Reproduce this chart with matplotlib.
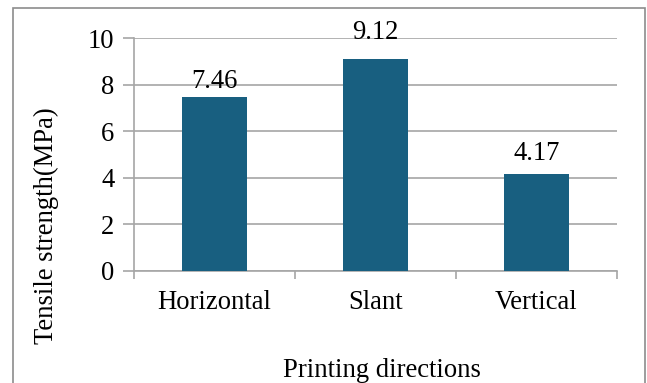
import matplotlib
matplotlib.use("Agg")
import matplotlib.pyplot as plt
from matplotlib.patches import Rectangle
from matplotlib.transforms import offset_copy

categories = ["Horizontal", "Slant", "Vertical"]
strength = [7.46, 9.12, 4.17]
y_ticks = [0, 2, 4, 6, 8, 10]

# gap (px) between each bar top and the baseline of its value label
label_gap_px = [9, 20, 14]

plt.rcParams["font.family"] = ["Liberation Serif", "DejaVu Serif"]
FS = 19.2
GRID = "#a6a6a6"
BAR = "#185f80"

W, H = 647, 383
fig = plt.figure(figsize=(W / 100, H / 100), dpi=100)

# outer chart frame
fig.patches.append(Rectangle((13 / W, -0.05), (645 - 13) / W, 1.05 - 8 / H,
                             transform=fig.transFigure, fill=False,
                             edgecolor="#8c8c8c", linewidth=1.2))

left, right, top, bottom = 134, 617, 38, 271
ax = fig.add_axes([left / W, 1 - bottom / H, (right - left) / W, (bottom - top) / H])

x = list(range(len(categories)))
ax.bar(x, strength, width=0.4, color=BAR, zorder=3)
for xi, v, gap in zip(x, strength, label_gap_px):
    tr = offset_copy(ax.transData, fig=fig, x=0, y=gap * 72 / 100, units="points")
    ax.text(xi, v, f"{v:.2f}", ha="center", va="baseline", fontsize=FS,
            transform=tr, zorder=4)

ax.set_xlim(-0.5, len(categories) - 0.5)
ax.set_ylim(0, 10)
ax.set_yticks(y_ticks)
ax.set_yticklabels([str(t) for t in y_ticks], fontsize=FS)
ax.yaxis.grid(True, color=GRID, linewidth=1.2, zorder=0)

# category labels centered, tick marks at category boundaries
ax.set_xticks(x)
ax.set_xticklabels(categories, fontsize=FS)
ax.tick_params(axis="x", length=0, pad=14)
ax.set_xticks([i - 0.5 for i in range(len(categories) + 1)], minor=True)
ax.tick_params(axis="x", which="minor", length=6, color=GRID, width=1.2)
ax.tick_params(axis="y", length=8, color=GRID, width=1.2, pad=6)

for s in ["top", "right"]:
    ax.spines[s].set_visible(False)
for s in ["left", "bottom"]:
    ax.spines[s].set_color(GRID)
    ax.spines[s].set_linewidth(1.2)

fig.text(46 / W, 1 - 226 / H, "Tensile strength(MPa)", rotation=90,
         ha="center", va="center", fontsize=FS)
fig.text(382 / W, 1 - 377 / H, "Printing directions", ha="center", va="baseline",
         fontsize=FS)

fig.savefig("out.png", dpi=100, facecolor="white")
